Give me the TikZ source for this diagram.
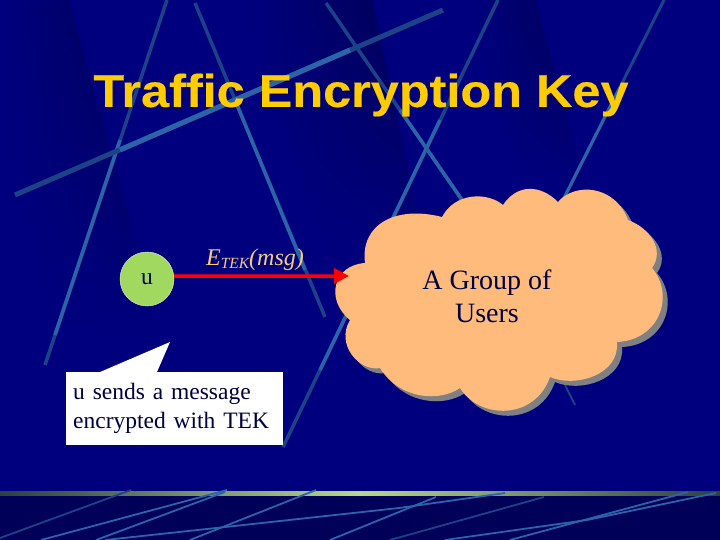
\documentclass[tikz,border=0pt]{standalone}
\usepackage{fontspec}
\setmainfont{Liberation Serif}
\newfontfamily\titlefont[FakeBold=0.3]{Liberation Sans Bold}
\usetikzlibrary{arrows.meta,fadings}
\definecolor{slidebg}{HTML}{00007F}
\definecolor{slidedark}{HTML}{000050}
\definecolor{footdark}{HTML}{000058}
\definecolor{streakdim}{HTML}{1C4288}
\definecolor{streak}{HTML}{2C64A8}
\definecolor{cloudfill}{HTML}{FFBB7C}
\definecolor{nodegreen}{HTML}{A0D860}
\definecolor{inktext}{HTML}{000040}
\definecolor{labeltan}{HTML}{F4CE7C}
\definecolor{titlegold}{HTML}{FFCC00}
\definecolor{bandmid}{HTML}{B8D888}
\definecolor{bandend}{HTML}{2C4040}
\tikzset{
  streakline/.style={draw=streakdim,line width=3.5pt},
  streakhi/.style={draw=streak,line width=3.5pt},
  footline/.style={draw=streak,line width=1.8pt},
  nodetext/.style={font=\fontsize{23.5}{29}\selectfont,text=inktext},
}
\newcommand{\cloudpath}{(365,263) .. controls (360,225) and (395,205) .. (442,217)
  .. controls (455,192) and (488,192) .. (503,205)
  .. controls (517,184) and (540,184) .. (558,202)
  .. controls (575,182) and (615,185) .. (628,220)
  .. controls (650,228) and (665,250) .. (652,268)
  .. controls (675,295) and (660,340) .. (617,342)
  .. controls (620,375) and (575,388) .. (550,377)
  .. controls (535,420) and (480,420) .. (460,388)
  .. controls (440,402) and (400,400) .. (380,368)
  .. controls (360,372) and (335,345) .. (350,320)
  .. controls (325,300) and (333,265) .. (365,263) -- cycle}
\begin{document}
\begin{tikzpicture}[x=1pt,y=-1pt]
\useasboundingbox (0,0) rectangle (720,540);
% slide background
\fill[slidebg] (0,0) rectangle (720,540);
\shade[left color=slidebg,right color=slidedark,path fading=south] (0,0) -- (69,0) -- (165,345) -- (60,345) -- (0,120) -- cycle;
\shade[left color=slidebg,right color=slidedark,path fading=south] (243,0) -- (372,0) -- (430,270) -- (330,270) -- cycle;
\shade[left color=slidebg,right color=slidedark,path fading=south] (470,0) -- (535,0) -- (590,200) -- (520,200) -- cycle;
\fill[footdark] (0,494) rectangle (720,540);
\shade[left color=bandend,right color=bandend,middle color=bandmid] (0,491) rectangle (720,495);

% streaks
\draw[streakline] (167,0) -- (45,365);
\draw[streakhi] (120,140) -- (55,335);
\draw[streakline] (195,3) -- (325,317);
\draw[streakhi] (235,100) -- (305,270);
\draw[streakline,line width=5pt] (443,10) -- (15,195);
\draw[streakhi,line width=5pt] (350,50) -- (120,150);
\draw[streakline] (326,3) -- (462,200);
\draw[streakhi] (400,110) -- (462,200);
\draw[streakline,line width=2pt] (565,385) -- (575,405);
\draw[streakline] (498,0) -- (283,447);
\draw[streakhi] (440,120) -- (320,370);
\draw[streakline,line width=3pt] (664,0) -- (563,200);
\draw[streakhi,line width=3pt] (620,87) -- (563,200);

% footer streaks
\draw[footline,streakdim] (131,490) -- (0,538);
\draw[footline] (227,490) -- (41,540);
\draw[footline] (225,492) -- (96,540);
\draw[footline] (316,490) -- (190,540);
\draw[footline] (505,493) -- (399,508) -- (216,528) -- (105,540);
\draw[footline] (436,497) -- (330,540);
\draw[footline,streakdim] (544,497) -- (390,540);
\draw[footline] (716,493) -- (587,520) -- (445,540);
\draw[footline] (688,492) -- (510,540);

% title
\node[font=\titlefont\fontsize{46}{50}\selectfont,text=titlegold,xscale=1.096,transform shape] (title) at (361,95) {Traffic Encryption Key};

% cloud
\fill[gray,shift={(5,5)}] \cloudpath;
\fill[cloudfill] \cloudpath;
\node[font=\fontsize{28}{33}\selectfont,text=inktext,align=center] (users) at (487,296) {A Group of\\Users};

% sender and arrow
\node[draw=white!80!nodegreen,fill=nodegreen,circle,minimum size=54pt,inner sep=0pt,nodetext] (u) at (147,279) {u};
\coordinate (cloudedge) at (349,276);
\path[draw,red,line width=3.5pt,-{Triangle[length=15pt,width=15pt]}] (u.6) -- (cloudedge);
\node[font=\itshape\fontsize{24}{29}\selectfont,text=labeltan,inner sep=0pt] (msglabel) at (255,260) {E\raisebox{-3pt}{\fontsize{15.5}{18}\selectfont TEK}(msg)};

% callout
\node[fill=white,anchor=north west,nodetext,text width=203pt,inner xsep=7pt,inner ysep=0pt,minimum height=73pt,align=left] (note) at (66,372) {u sends a message\\encrypted with TEK};
\coordinate (notetip) at (170,342);
\coordinate (notebase) at (100,372);
\fill[white] (notebase) -- (notetip) -- (157,372) -- cycle;
\end{tikzpicture}
\end{document}
